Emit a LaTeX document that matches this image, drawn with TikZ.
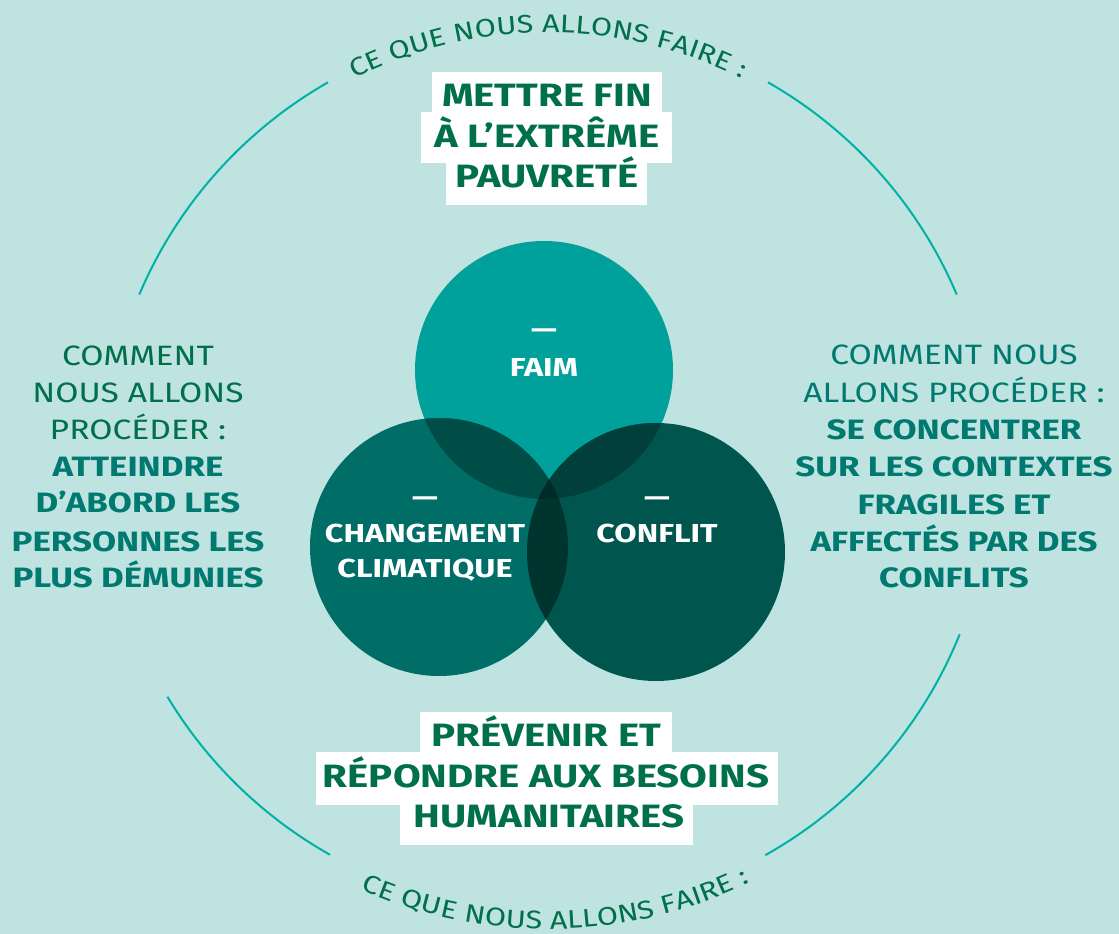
\documentclass[tikz,border=0pt]{standalone}
\usepackage{fontspec}
\setmainfont{Fira Sans}
\newfontfamily\fbold{Fira Sans Bold}[FakeStretch=1.245]
\newfontfamily\freg{Fira Sans}[FakeStretch=1.2]
\usetikzlibrary{decorations.text,calc}
\definecolor{bg}{HTML}{BFE3E0}
\definecolor{arcc}{HTML}{00B2A5}
\definecolor{tgreen}{HTML}{00704A}
\definecolor{tteal}{HTML}{007A70}
\definecolor{ctop}{HTML}{00A19A}
\definecolor{cleft}{HTML}{006E67}
\definecolor{cright}{HTML}{00564F}
\definecolor{ctl}{HTML}{004D47}
\definecolor{ctr}{HTML}{003F3A}
\definecolor{clr}{HTML}{00352F}
\definecolor{call}{HTML}{002A26}
\tikzset{
  bigarc/.style={draw=arcc,line width=2pt},
  titlebox/.style={fill=white},
  titletxt/.style={anchor=base,inner sep=0pt,text=tgreen,font=\fbold\fontsize{32.3}{33}\selectfont},
  sidereg/.style={anchor=base,inner sep=0pt,font=\freg\fontsize{28}{28}\selectfont},
  sidebold/.style={anchor=base,inner sep=0pt,text=tteal,font=\fbold\fontsize{28}{28}\selectfont},
  circtxt/.style={anchor=base,inner sep=0pt,text=white,font=\fbold\fontsize{26}{26}\selectfont},
}
\begin{document}
\begin{tikzpicture}[x=1pt,y=1pt]
\useasboundingbox (0,0) rectangle (1119,934);
\fill[bg] (0,0) rectangle (1119,934);
\coordinate (C) at (548,466);
% outer ring arcs
\draw[bigarc] ($(C)+(119.7:444)$) arc[start angle=119.7,end angle=157,radius=444];
\draw[bigarc] ($(C)+(23:444)$) arc[start angle=23,end angle=60.3,radius=444];
\draw[bigarc] ($(C)+(211:444)$) arc[start angle=211,end angle=240.6,radius=444];
\draw[bigarc] ($(C)+(299.3:444)$) arc[start angle=299.3,end angle=338,radius=444];
% curved texts
\path[decorate,decoration={text along path,text align=center,
  text={|\freg\fontsize{25.5}{25.5}\selectfont\color{tgreen}|CE QUE NOUS ALLONS FAIRE :}}]
  ($(C)+(150:435)$) arc[start angle=150,end angle=30,radius=435];
\path[decorate,decoration={text along path,text align=center,
  text={|\freg\fontsize{25.5}{25.5}\selectfont\color{tgreen}|CE QUE NOUS ALLONS FAIRE :}}]
  ($(C)+(211:461)$) arc[start angle=211,end angle=331,radius=461];
% Venn circles
\coordinate (T) at (544,564);
\coordinate (L) at (439,387);
\coordinate (R) at (656,382);
\fill[ctop] (T) circle (129);
\fill[cleft] (L) circle (129);
\fill[cright] (R) circle (129);
\begin{scope}\clip (T) circle (129); \fill[ctl] (L) circle (129);\end{scope}
\begin{scope}\clip (T) circle (129); \fill[ctr] (R) circle (129);\end{scope}
\begin{scope}\clip (L) circle (129); \fill[clr] (R) circle (129);\end{scope}
\begin{scope}\clip (T) circle (129); \clip (L) circle (129); \fill[call] (R) circle (129);\end{scope}
\node[circtxt] (dashT) at (544,595) {—};
\node[circtxt] (faim) at (544,557) {FAIM};
\node[circtxt] (dashL) at (425,427) {—};
\node[circtxt] (chg1) at (425,391) {CHANGEMENT};
\node[circtxt] (chg2) at (425,356) {CLIMATIQUE};
\node[circtxt] (dashR) at (657,427) {—};
\node[circtxt] (conf) at (657,391) {CONFLIT};
% top title
\fill[titlebox] (432,822) rectangle (662,862);
\fill[titlebox] (421,771) rectangle (672,822);
\fill[titlebox] (446,729) rectangle (647,771);
\node[titletxt] (t1) at (547,827) {METTRE FIN};
\node[titletxt] (t2) at (547,786) {À L’EXTRÊME};
\node[titletxt] (t3) at (547,746) {PAUVRETÉ};
% bottom title
\fill[titlebox] (420,182) rectangle (672,222);
\fill[titlebox] (316,129) rectangle (778,182);
\fill[titlebox] (400,89) rectangle (693,129);
\node[titletxt] (b1) at (546,187) {PRÉVENIR ET};
\node[titletxt] (b2) at (546,146) {RÉPONDRE AUX BESOINS};
\node[titletxt] (b3) at (549,106) {HUMANITAIRES};
% left side
\node[sidereg,text=tgreen] (l1) at (138,568) {COMMENT};
\node[sidereg,text=tgreen] (l2) at (138,531) {NOUS ALLONS};
\node[sidereg,text=tgreen] (l3) at (138,494) {PROCÉDER :};
\node[sidebold] (l4) at (138,457) {ATTEINDRE};
\node[sidebold] (l5) at (138,421) {D’ABORD LES};
\node[sidebold] (l6) at (138,382) {PERSONNES LES};
\node[sidebold] (l7) at (138,346) {PLUS DÉMUNIES};
% right side
\node[sidereg,text=tteal] (r1) at (954,569) {COMMENT NOUS};
\node[sidereg,text=tteal] (r2) at (954,531) {ALLONS PROCÉDER :};
\node[sidebold] (r3) at (954,494) {SE CONCENTRER};
\node[sidebold] (r4) at (954,457) {SUR LES CONTEXTES};
\node[sidebold] (r5) at (954,419) {FRAGILES ET};
\node[sidebold] (r6) at (954,382) {AFFECTÉS PAR DES};
\node[sidebold] (r7) at (954,346) {CONFLITS};
\end{tikzpicture}
\end{document}
